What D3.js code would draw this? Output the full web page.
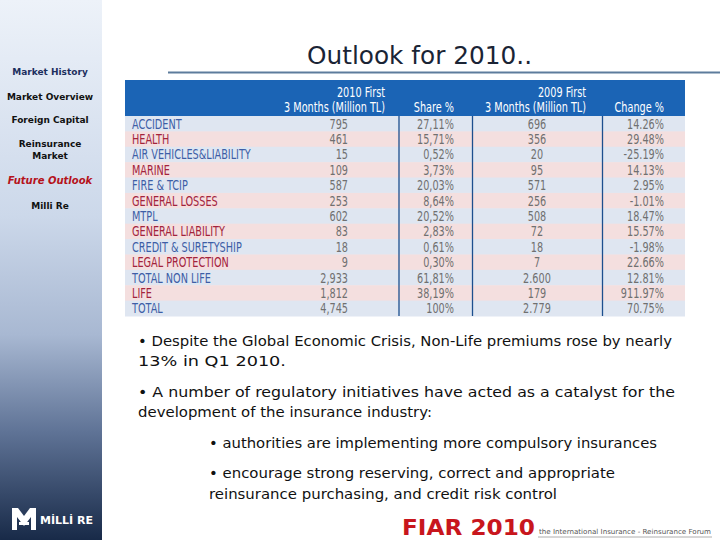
<!DOCTYPE html>
<html><head><meta charset="utf-8">
<script src="https://cdn.jsdelivr.net/npm/d3@7"></script>
<style>
html,body{margin:0;padding:0;background:#fff;}
svg{display:block;}
</style></head>
<body>
<script>
// ---- data ----
const categories = ["ACCIDENT","HEALTH","AIR VEHICLES&LIABILITY","MARINE","FIRE & TCIP","GENERAL LOSSES","MTPL","GENERAL LIABILITY","CREDIT & SURETYSHIP","LEGAL PROTECTION","TOTAL NON LIFE","LIFE","TOTAL"];
const premiums2010 = ["795","461","15","109","587","253","602","83","18","9","2,933","1,812","4,745"];
const share2010 = ["27,11%","15,71%","0,52%","3,73%","20,03%","8,64%","20,52%","2,83%","0,61%","0,30%","61,81%","38,19%","100%"];
const premiums2009 = ["696","356","20","95","571","256","508","72","18","7","2.600","179","2.779"];
const changePct = ["14.26%","29.48%","-25.19%","14.13%","2.95%","-1.01%","18.47%","15.57%","-1.98%","22.66%","12.81%","911.97%","70.75%"];
const navItems = [["Market History"],["Market Overview"],["Foreign Capital"],["Reinsurance","Market"],["Future Outlook"],["Milli Re"]];
const bullets = [
  {t:"\u2022 Despite the Global Economic Crisis, Non-Life premiums rose by nearly", x:138, y:346, w:534},
  {t:"13% in Q1 2010.", x:138, y:366, w:148},
  {t:"\u2022  A number of regulatory initiatives have acted as a catalyst for the", x:138, y:397, w:537},
  {t:"development of the insurance industry:", x:138, y:417, w:294},
  {t:"\u2022 authorities are implementing more compulsory insurances", x:209, y:448, w:448},
  {t:"\u2022 encourage strong reserving, correct and appropriate", x:209, y:478, w:406},
  {t:"reinsurance purchasing, and credit risk control", x:209, y:499, w:348}
];

const W = 720, H = 540;
const svg = d3.select("body").append("svg").attr("width", W).attr("height", H);
const defs = svg.append("defs");

// sidebar gradient
const g = defs.append("linearGradient").attr("id","side").attr("x1",0).attr("y1",0).attr("x2",0).attr("y2",1);
[[0,"#edf2f9"],[0.4,"#ccd8ea"],[0.62,"#a8b8d2"],[0.8,"#5f7396"],[1,"#182a48"]].forEach(s=>g.append("stop").attr("offset",s[0]).attr("stop-color",s[1]));
svg.append("rect").attr("x",0).attr("y",0).attr("width",102).attr("height",H).attr("fill","url(#side)");

// nav
const navY = [71,96,119,143,180,205];
const navCol = ["#1d2f5e","#111","#111","#111","#b5121b","#111"];
navItems.forEach((lines,i)=>{
  lines.forEach((ln,j)=>{
    svg.append("text").attr("x",50).attr("y",navY[i]+3.5+j*12)
      .attr("text-anchor","middle")
      .attr("font-family","'DejaVu Sans',sans-serif").attr("font-weight","bold")
      .attr("font-style", i===4?"italic":"normal")
      .attr("font-size", i===4?10:9).attr("fill",navCol[i]).text(ln);
  });
});

// logo bottom-left
const lg = svg.append("g").attr("fill","#fff");
lg.append("path").attr("d","M12,508 h6 l6,8 l6,-8 h6 v22 h-5 v-13 l-7,9 l-7,-9 v13 h-5 z");
lg.append("rect").attr("x",19).attr("y",522).attr("width",10).attr("height",3);
svg.append("text").attr("x",40).attr("y",524).attr("font-family","'DejaVu Sans',sans-serif")
  .attr("font-weight","bold").attr("font-size",11).attr("fill","#fff").text("M\u0130LL\u0130 RE");

// title
svg.append("text").attr("x",307).attr("y",64).attr("font-family","'DejaVu Sans',sans-serif")
  .attr("font-size",25).attr("fill","#1a2435").attr("textLength",225).attr("lengthAdjust","spacingAndGlyphs")
  .text("Outlook for 2010..");
svg.append("line").attr("x1",168).attr("x2",720).attr("y1",72.5).attr("y2",72.5).attr("stroke","#5d7c9c").attr("stroke-width",2);

// table
const tx0 = 125, tx1 = 685;
const headTop = 80, headBot = 116, tblBot = 316;
const y = d3.scaleBand().domain(categories).range([headBot, tblBot]);
const colLines = [399, 472.5, 602.5];
const font = "'Liberation Sans Narrow','DejaVu Sans Condensed',sans-serif";
const fs = 14, squeeze = 0.77;
function narrow(sel){
  sel.each(function(){
    const L = this.getComputedTextLength();
    d3.select(this).attr("textLength", L*squeeze).attr("lengthAdjust","spacingAndGlyphs");
  });
}

svg.append("rect").attr("x",tx0).attr("y",headTop).attr("width",tx1-tx0).attr("height",headBot-headTop).attr("fill","#1b64b5");

const rows = svg.append("g").selectAll("g").data(categories).join("g");
rows.append("rect").attr("x",tx0).attr("y",d=>y(d)).attr("width",tx1-tx0).attr("height",y.bandwidth()+0.5)
  .attr("fill",(d,i)=> i%2===0 ? "#dfe6f1" : "#f4dfdf");
rows.append("text").attr("x",132).attr("y",d=>y(d)+y.bandwidth()/2+5)
  .attr("font-family",font).attr("font-size",fs)
  .attr("fill",(d,i)=> i%2===0 ? "#3d5ea6" : "#a3233c").text(d=>d).call(narrow);

const cols = [
  {vals:premiums2010, x:348, anchor:"end"},
  {vals:share2010, x:454, anchor:"end"},
  {vals:premiums2009, x:537, anchor:"middle"},
  {vals:changePct, x:664, anchor:"end"}
];
cols.forEach(c=>{
  svg.append("g").selectAll("text").data(categories).join("text")
    .attr("x",c.x).attr("y",d=>y(d)+y.bandwidth()/2+5)
    .attr("text-anchor",c.anchor).attr("font-family",font).attr("font-size",fs)
    .attr("fill","#707070").text((d,i)=>c.vals[i]).call(narrow);
});

colLines.forEach(x=>svg.append("line").attr("x1",x).attr("x2",x).attr("y1",headBot).attr("y2",tblBot)
  .attr("stroke","#1d4f8e").attr("stroke-width",1.3));

// header texts
const head = [
  {t:"2010 First", x:385, y:97, a:"end"},
  {t:"3 Months (Million TL)", x:385, y:112, a:"end"},
  {t:"Share %", x:454, y:112, a:"end"},
  {t:"2009 First", x:586, y:97, a:"end"},
  {t:"3 Months (Million TL)", x:586, y:112, a:"end"},
  {t:"Change %", x:664, y:112, a:"end"}
];
head.forEach(h=>svg.append("text").attr("x",h.x).attr("y",h.y).attr("text-anchor",h.a)
  .attr("font-family",font).attr("font-size",fs).attr("fill","#fff").text(h.t).call(narrow));

// bullets
bullets.forEach(b=>svg.append("text").attr("x",b.x).attr("y",b.y)
  .attr("font-family","'DejaVu Sans',sans-serif").attr("font-size",14.5).attr("fill","#111")
  .attr("textLength",b.w).attr("lengthAdjust","spacingAndGlyphs").text(b.t));

// FIAR logo
svg.append("text").attr("x",402).attr("y",535).attr("font-family","'DejaVu Sans',sans-serif")
  .attr("font-weight","bold").attr("font-size",21).attr("fill","#c8161d")
  .attr("textLength",133).attr("lengthAdjust","spacingAndGlyphs").text("FIAR 2010");
svg.append("text").attr("x",539).attr("y",534).attr("font-family","'DejaVu Sans',sans-serif")
  .attr("font-size",7).attr("fill","#555").attr("textLength",172).attr("lengthAdjust","spacingAndGlyphs")
  .text("the International Insurance - Reinsurance Forum");
svg.append("line").attr("x1",538).attr("x2",712).attr("y1",537).attr("y2",537).attr("stroke","#999").attr("stroke-width",0.8);
</script>
</body></html>
